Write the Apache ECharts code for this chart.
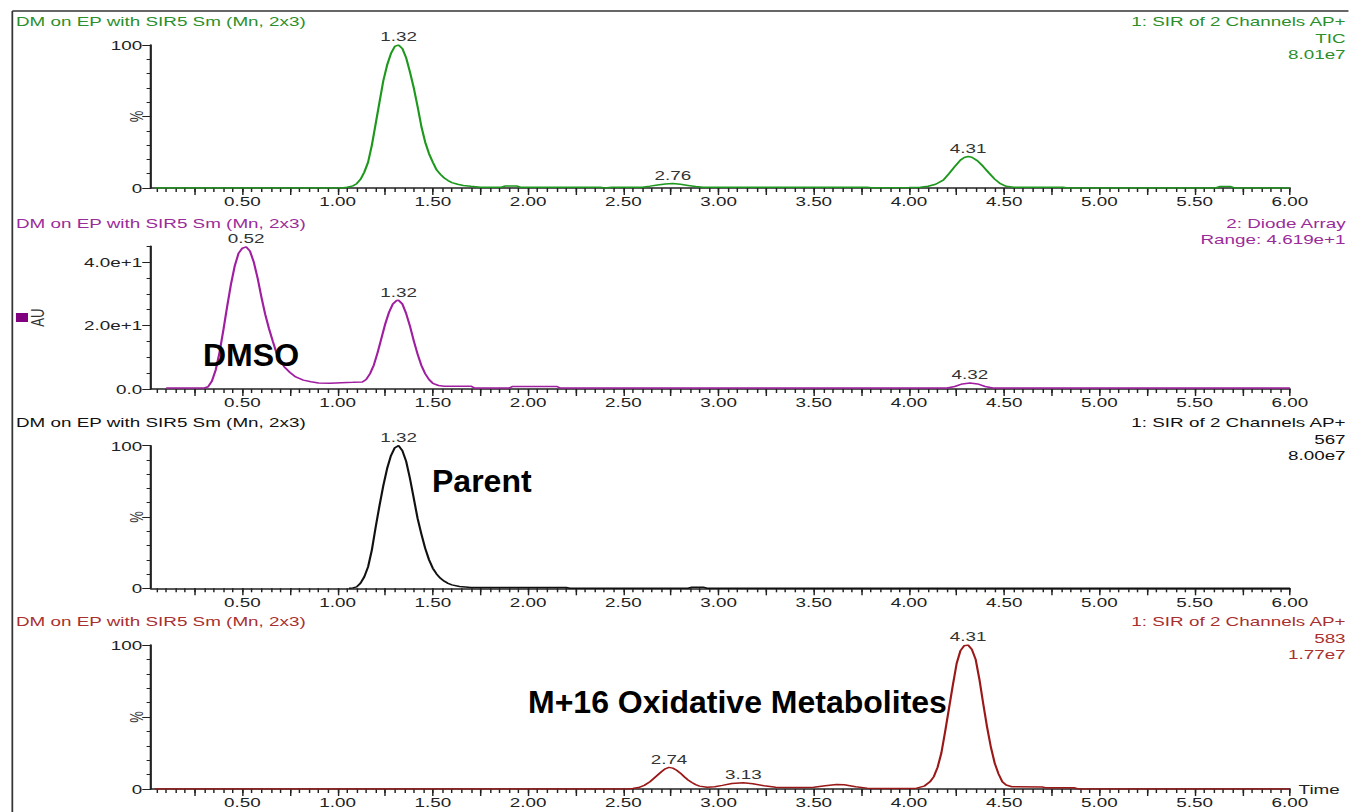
<!DOCTYPE html>
<html>
<head>
<meta charset="utf-8">
<script src="https://cdn.jsdelivr.net/npm/echarts@6/dist/echarts.min.js"></script>
<style>
  html, body { margin: 0; padding: 0; background: #fff; overflow: hidden; }
  /* the instrument printout is drawn narrow and stretched sideways */
  #chart { width: 930.3px; height: 812px; transform: scaleX(1.45); transform-origin: 0 0; }
</style>
</head>
<body>
<div id="chart"></div>
<script>
// ---------- data ----------
// time axis labels (min)
const xLabelValues = [0.5, 1.0, 1.5, 2.0, 2.5, 3.0, 3.5, 4.0, 4.5, 5.0, 5.5, 6.0];

// y axis labels
const pctTickValues = [0, 100];
const pctTickLabels = ['0', '100'];
const auTickValues = [0, 20, 40];
const auTickLabels = ['0.0', '2.0e+1', '4.0e+1'];

// trace 1: SIR TIC, [time, %]
const ticTrace = [
  [0.04, 0], [1.02, 0], [1.05, 0.5], [1.08, 1.5], [1.10, 3], [1.12, 6], [1.14, 11], [1.16, 18],
  [1.18, 30], [1.20, 45], [1.22, 60], [1.24, 75], [1.26, 86], [1.28, 94], [1.30, 99], [1.32, 100],
  [1.34, 97.5], [1.36, 91], [1.38, 81], [1.40, 70], [1.42, 57], [1.44, 43], [1.46, 32], [1.48, 24],
  [1.50, 18], [1.52, 12.6], [1.54, 9.5], [1.56, 7], [1.58, 5.2], [1.60, 3.8], [1.63, 2.6], [1.66, 1.8],
  [1.70, 1.2], [1.75, 0.6], [1.86, 0.6], [1.88, 1.4], [1.94, 1.4], [1.96, 0.6], [2.38, 0.6], [2.40, 0],
  [2.44, 0.5], [2.60, 0.6], [2.64, 1.3], [2.68, 2.1], [2.72, 2.8], [2.76, 3.1], [2.80, 2.6], [2.84, 1.8],
  [2.88, 1.0], [2.92, 0.6], [3.78, 0.6], [3.80, 0.2], [4.00, 0.3], [4.06, 0.6], [4.10, 1.2], [4.14, 2.6],
  [4.18, 5.5], [4.21, 10], [4.24, 15], [4.27, 19.5], [4.29, 21.3], [4.31, 22], [4.33, 21.5], [4.36, 19],
  [4.39, 15], [4.42, 10.5], [4.45, 6.2], [4.48, 3], [4.51, 1.2], [4.55, 0.6], [4.81, 0.6], [4.83, 0],
  [5.61, 0], [5.63, 1], [5.69, 1], [5.71, 0], [6.00, 0]
];
const ticPeaks = [1.32, 2.76, 4.31];

// trace 2: diode array, [time, AU]
const uvTrace = [
  [0.10, 0.3], [0.30, 0.3], [0.32, 0.7], [0.34, 2.5], [0.36, 6], [0.38, 11.5], [0.40, 18.5], [0.42, 26],
  [0.44, 33], [0.46, 38.8], [0.48, 42.8], [0.50, 44.4], [0.52, 44.8], [0.54, 43.5], [0.56, 40], [0.58, 35],
  [0.60, 29], [0.62, 23.5], [0.64, 19], [0.66, 15], [0.68, 11.2], [0.70, 9], [0.72, 7], [0.75, 5.2],
  [0.78, 3.8], [0.82, 2.8], [0.86, 2.3], [0.90, 1.9], [0.96, 1.8], [1.02, 2.0], [1.08, 2.1], [1.13, 2.2],
  [1.15, 3], [1.17, 4.8], [1.19, 7.5], [1.21, 11.5], [1.23, 16], [1.25, 20.5], [1.27, 24.2], [1.29, 26.8],
  [1.31, 27.9], [1.32, 28], [1.34, 26.8], [1.36, 23.8], [1.38, 19.8], [1.40, 15.2], [1.42, 11], [1.44, 7.4],
  [1.46, 4.8], [1.48, 3], [1.50, 1.8], [1.53, 1.1], [1.56, 0.9], [1.70, 0.9], [1.72, 0.3], [1.90, 0.3],
  [1.92, 0.8], [2.15, 0.8], [2.17, 0.3], [4.20, 0.3], [4.24, 0.8], [4.28, 1.6], [4.32, 1.9], [4.36, 1.6],
  [4.40, 0.8], [4.44, 0.3], [6.00, 0.3]
];
const uvPeaks = [0.52, 1.32, 4.32];

// trace 3: SIR 567 (parent), [time, %]
const parentTrace = [
  [1.06, 0], [1.08, 0.3], [1.10, 1], [1.12, 3.5], [1.14, 8], [1.16, 15], [1.18, 27], [1.20, 43],
  [1.22, 58], [1.24, 72], [1.26, 84], [1.28, 93], [1.30, 98.5], [1.32, 100], [1.34, 96.5], [1.36, 89],
  [1.38, 77], [1.40, 63], [1.42, 49], [1.44, 38], [1.46, 28], [1.48, 20], [1.50, 14], [1.52, 10],
  [1.54, 7], [1.56, 5], [1.58, 3.5], [1.60, 2.4], [1.64, 1.3], [1.70, 0.6], [2.20, 0.5], [2.22, 0],
  [2.84, 0], [2.86, 0.8], [2.92, 0.8], [2.94, 0], [6.00, 0]
];
const parentPeaks = [1.32];

// trace 4: SIR 583 (M+16), [time, %]
const metTrace = [
  [0.04, 0], [2.52, 0], [2.55, 0.3], [2.58, 1], [2.61, 2.5], [2.64, 5], [2.67, 8.5], [2.70, 12],
  [2.72, 14], [2.74, 15], [2.76, 14.5], [2.78, 13], [2.80, 11], [2.82, 8.5], [2.84, 6.3], [2.86, 4.5],
  [2.88, 3], [2.90, 2], [2.94, 1.2], [2.98, 1.5], [3.02, 2.5], [3.07, 3.8], [3.13, 4.3], [3.18, 3.6],
  [3.24, 2.2], [3.30, 1.2], [3.40, 1.0], [3.50, 1.2], [3.56, 2.2], [3.62, 3.2], [3.66, 3.0], [3.72, 1.6],
  [3.78, 0.6], [3.86, 0.4], [4.00, 0.3], [4.04, 0.6], [4.08, 2], [4.11, 5], [4.13, 8.5], [4.15, 15],
  [4.17, 25], [4.19, 40], [4.21, 56], [4.23, 72], [4.25, 87], [4.27, 96], [4.29, 99.5], [4.31, 100],
  [4.33, 97], [4.35, 90], [4.37, 76], [4.39, 59], [4.41, 43], [4.43, 29], [4.45, 18], [4.47, 10.5],
  [4.49, 5], [4.51, 2.8], [4.54, 1.6], [4.70, 1.4], [4.72, 0.8], [4.87, 0.8], [4.89, 0], [6.00, 0]
];
const metPeaks = [2.74, 3.13, 4.31];

// header texts
const leftTitle = 'DM on EP with SIR5 Sm (Mn, 2x3)';
const ticHeader = ['1: SIR of 2 Channels AP+', 'TIC', '8.01e7'];
const uvHeader = ['2: Diode Array', 'Range: 4.619e+1'];
const parentHeader = ['1: SIR of 2 Channels AP+', '567', '8.00e7'];
const metHeader = ['1: SIR of 2 Channels AP+', '583', '1.77e7'];

// ---------- layout ----------
const W = 930.3;
const FONT = 'Arial, "Liberation Sans", Helvetica, sans-serif';
const SX = 1 / 1.45; // undo the sideways stretch for the overlaid notes
const gridLeft = 104.1, gridRight = 40.4;
const xMin = 0.02, xMax = 6.0;

const xMinor = [];
for (let k = 1; k <= 120; k++) xMinor.push(+(k * 0.05).toFixed(2));
const xMajor = [];
for (let k = 1; k <= 24; k++) xMajor.push(+(k * 0.25).toFixed(2));

const panels = [
  { top: 45, bottom: 188, line: '#1c981c', text: '#2b8f2b', trace: ticTrace, peaks: ticPeaks,
    yMax: 100, yMinorStep: 10, yMajor: [0, 50, 100], yLabVals: pctTickValues, yLabs: pctTickLabels,
    yName: '%', nameGap: 4, header: ticHeader },
  { top: 246.3, bottom: 389, line: '#a01ea0', text: '#9a2c9a', trace: uvTrace, peaks: uvPeaks,
    yMax: 45, yMinorStep: 5, yMajor: [0, 20, 40], yLabVals: auTickValues, yLabs: auTickLabels,
    yName: 'AU', nameGap: 72, header: uvHeader },
  { top: 445.7, bottom: 588.3, line: '#111111', text: '#111111', trace: parentTrace, peaks: parentPeaks,
    yMax: 100, yMinorStep: 10, yMajor: [0, 50, 100], yLabVals: pctTickValues, yLabs: pctTickLabels,
    yName: '%', nameGap: 4, header: parentHeader },
  { top: 645, bottom: 789, line: '#9a1818', text: '#a83030', trace: metTrace, peaks: metPeaks,
    yMax: 100, yMinorStep: 10, yMajor: [0, 50, 100], yLabVals: pctTickValues, yLabs: pctTickLabels,
    yName: '%', nameGap: 4, header: metHeader, xName: 'Time' }
];

const grid = [], xAxis = [], yAxis = [], series = [], graphic = [];
const axisColor = '#222';

panels.forEach((p, i) => {
  grid.push({ left: gridLeft, right: gridRight, top: p.top, height: p.bottom - p.top });

  const yMinor = [];
  for (let v = 0; v <= p.yMax + 1e-9; v += p.yMinorStep) yMinor.push(v);

  // axis with line and short ticks
  xAxis.push({
    type: 'value', gridIndex: i, min: xMin, max: xMax, position: 'bottom',
    axisLine: { show: true, lineStyle: { color: axisColor, width: 1.5 } },
    axisTick: { show: true, customValues: xMinor, length: 4, lineStyle: { color: axisColor, width: 1 } },
    axisLabel: { show: false }, splitLine: { show: false },
    name: p.xName || '', nameLocation: 'end', nameGap: 6,
    nameTextStyle: { color: axisColor, fontSize: 13, fontFamily: FONT, verticalAlign: 'middle' }
  });
  // overlay with long ticks and labels
  xAxis.push({
    type: 'value', gridIndex: i, min: xMin, max: xMax, position: 'bottom',
    axisLine: { show: false },
    axisTick: { show: true, customValues: xMajor, length: 7, lineStyle: { color: axisColor, width: 1 } },
    axisLabel: { show: true, customValues: xLabelValues, margin: 7, color: axisColor, fontSize: 13,
      fontFamily: FONT, formatter: v => v.toFixed(2) },
    splitLine: { show: false }
  });

  yAxis.push({
    type: 'value', gridIndex: i, min: 0, max: p.yMax, position: 'left',
    axisLine: { show: true, lineStyle: { color: axisColor, width: 1.5 } },
    axisTick: { show: true, customValues: yMinor, length: 3, lineStyle: { color: axisColor, width: 1 } },
    axisLabel: { show: false }, splitLine: { show: false },
    name: p.yName, nameLocation: 'middle', nameRotate: 90, nameGap: p.nameGap,
    nameTextStyle: { color: '#333', fontSize: 13, fontFamily: FONT }
  });
  yAxis.push({
    type: 'value', gridIndex: i, min: 0, max: p.yMax, position: 'left',
    axisLine: { show: false },
    axisTick: { show: true, customValues: p.yMajor, length: 6, lineStyle: { color: axisColor, width: 1 } },
    axisLabel: { show: true, customValues: p.yLabVals, margin: 6, color: axisColor, fontSize: 13,
      fontFamily: FONT, formatter: v => p.yLabs[p.yLabVals.indexOf(v)] },
    splitLine: { show: false }
  });

  series.push({
    type: 'line', xAxisIndex: 2 * i, yAxisIndex: 2 * i,
    data: p.trace, showSymbol: false, symbol: 'none', animation: false,
    lineStyle: { color: p.line, width: 1.5 },
    markPoint: {
      symbol: 'circle', symbolSize: 0, animation: false,
      label: { show: true, position: 'top', distance: 2, color: '#333', fontSize: 13, fontFamily: FONT,
        formatter: m => m.value.toFixed(2) },
      data: p.peaks.map(t => ({ coord: p.trace.find(d => d[0] === t), value: t }))
    }
  });

  const titleY = p.top - 23.5;
  graphic.push({ type: 'text', x: 11, y: titleY,
    style: { text: leftTitle, fill: p.text, font: '13px ' + FONT, align: 'left', verticalAlign: 'middle' } });
  p.header.forEach((s, k) => {
    graphic.push({ type: 'text', x: 928, y: titleY + k * 16.5,
      style: { text: s, fill: p.text, font: '13px ' + FONT, align: 'right', verticalAlign: 'middle' } });
  });
});

// frame lines
graphic.push({ type: 'line', shape: { x1: 8.5, y1: 11, x2: W, y2: 11 }, style: { stroke: '#333', lineWidth: 1.5 } });
graphic.push({ type: 'line', shape: { x1: 8.5, y1: 11, x2: 8.5, y2: 812 }, style: { stroke: '#333', lineWidth: 1.2 } });
// diode-array channel marker
graphic.push({ type: 'rect', shape: { x: 11, y: 313, width: 8.3, height: 9 }, style: { fill: '#800080' } });

// notes
const notes = [
  { text: 'DMSO', x: 203, y: 355 },
  { text: 'Parent', x: 432, y: 481 },
  { text: 'M+16 Oxidative Metabolites', x: 528, y: 702 }
];
notes.forEach(n => {
  graphic.push({ type: 'text', x: n.x * SX, y: n.y, scaleX: SX, z: 100,
    style: { text: n.text, fill: '#000', font: 'bold 32px ' + FONT, align: 'left', verticalAlign: 'middle' } });
});

const chart = echarts.init(document.getElementById('chart'), null, { renderer: 'svg' });
chart.setOption({
  animation: false,
  backgroundColor: '#fff',
  grid, xAxis, yAxis, series, graphic
});
</script>
</body>
</html>
